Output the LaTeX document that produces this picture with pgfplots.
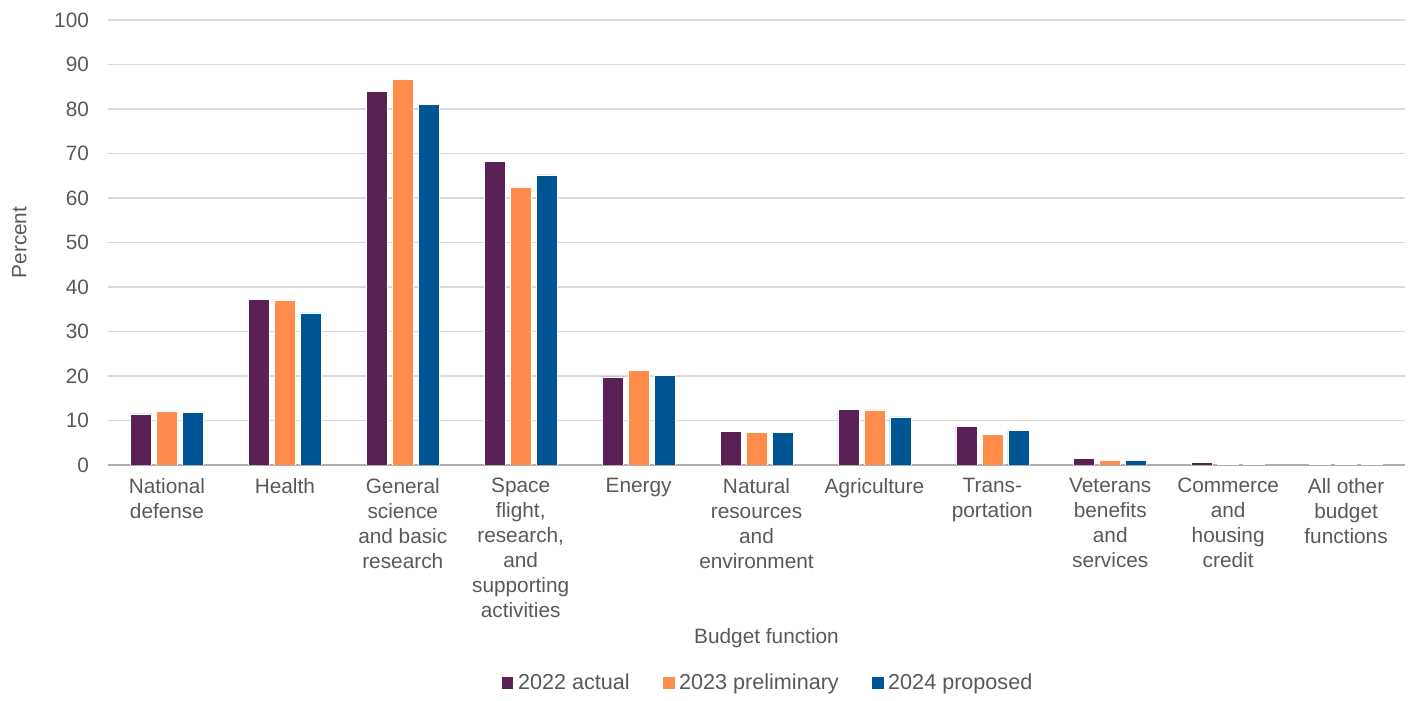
\documentclass[border=0pt]{standalone}
\usepackage{pgfplots}
\pgfplotsset{compat=1.18}
\usepackage{fontspec}
\setmainfont{Liberation Sans}
\definecolor{cpurple}{HTML}{5A2157}
\definecolor{corange}{HTML}{FF8C4A}
\definecolor{cblue}{HTML}{005595}
\definecolor{txtgray}{HTML}{595959}
\definecolor{gridgray}{HTML}{D9D9D9}

\begin{document}
\begin{tikzpicture}
\begin{axis}[
    ybar=2.5pt,
    bar width=10.5pt,
    scale only axis,
    width=648.5pt,
    height=222.5pt,
    xmin=-0.5, xmax=10.5,
    ymin=0, ymax=100,
    ytick={0,10,...,100},
    xtick={0,...,10},
    xticklabels={
      {National\\defense},
      {Health},
      {General\\science\\and basic\\research},
      {Space\\flight,\\research,\\and\\supporting\\activities},
      {Energy},
      {Natural\\resources\\and\\environment},
      {Agriculture},
      {Trans-\\portation},
      {Veterans\\benefits\\and\\services},
      {Commerce\\and\\housing\\credit},
      {All other\\budget\\functions}},
    font=\fontsize{10.4}{12.5}\selectfont,
    x tick label style={align=center, text=txtgray, anchor=north, yshift=-3pt},
    y tick label style={text=txtgray, xshift=-6pt},
    /pgf/number format/assume math mode=true,
    major tick length=0pt,
    ymajorgrids,
    grid style={gridgray, line width=0.8pt},
    axis x line*=bottom,
    axis y line*=left,
    y axis line style={draw=none},
    x axis line style={draw=gridgray!80!black, line width=0.8pt},
    ylabel={Percent},
    ylabel style={text=txtgray, at={([xshift=-51.5pt]axis description cs:0,0.5)}, anchor=north},
    xlabel={Budget function},
    xlabel style={text=txtgray, at={(axis description cs:0.5,0)}, anchor=center, yshift=-86.5pt, xshift=5pt},
    legend style={draw=none, at={(axis description cs:0.5,0)}, anchor=center, yshift=-109pt, xshift=6pt,
      legend columns=3, font=\fontsize{10.8}{12.5}\selectfont, text=txtgray,
      /tikz/every even column/.append style={column sep=14pt}},
    legend image code/.code={\fill[#1] (0pt,-3.2pt) rectangle (6.4pt,3.2pt);},
    every axis plot/.append style={draw=white, line width=0.3pt},
    after end axis/.code={
      \path ([xshift=-54pt,yshift=10pt]rel axis cs:0,1) rectangle ([xshift=3pt,yshift=-115.5pt]rel axis cs:1,0);
    },
]
\addplot[fill=cpurple] coordinates {
(0,11.5) (1,37.3) (2,84.0) (3,68.3) (4,19.8) (5,7.6) (6,12.5) (7,8.7) (8,1.4) (9,0.5) (10,0.1)};
\addplot[fill=corange] coordinates {
(0,12.1) (1,36.9) (2,86.7) (3,62.5) (4,21.3) (5,7.3) (6,12.4) (7,6.9) (8,1.1) (9,0.2) (10,0.1)};
\addplot[fill=cblue] coordinates {
(0,11.9) (1,34.2) (2,81.1) (3,65.2) (4,20.2) (5,7.4) (6,10.8) (7,7.7) (8,1.1) (9,0.1) (10,0.1)};
\legend{2022 actual, 2023 preliminary, 2024 proposed}
\end{axis}
\end{tikzpicture}
\end{document}
